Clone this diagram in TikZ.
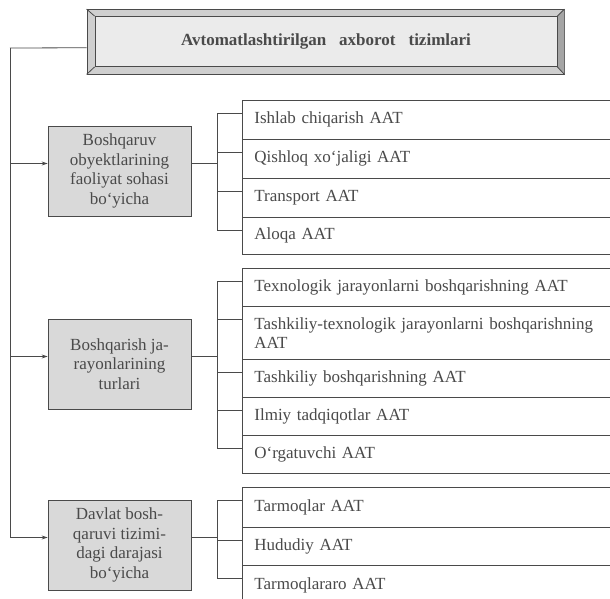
\documentclass[tikz,border=0pt]{standalone}
\usepackage{fontspec}
\setmainfont{Liberation Serif}
\usetikzlibrary{arrows.meta}
\definecolor{ink}{HTML}{4A4A4A}
\definecolor{boxfill}{HTML}{D9D9D9}
\definecolor{panelfill}{HTML}{EBEBEB}
\definecolor{framefill}{HTML}{CFCFCF}
\definecolor{frameshade}{HTML}{A5A5A5}

\begin{document}
\begin{tikzpicture}[x=1pt, y=-1pt, line width=0.8pt, color=ink,
  every node/.style={font=\fontsize{17}{19.5}\selectfont},
  frame/.style={rectangle, draw=ink, fill=framefill, minimum width=477pt, minimum height=64.5pt},
  panel/.style={rectangle, draw=ink, fill=panelfill, minimum width=462pt, minimum height=50pt},
  cat/.style={rectangle, draw=ink, fill=boxfill, minimum width=143pt, minimum height=90pt, align=center, inner sep=2pt},
  item/.style={rectangle, draw=ink, anchor=north west, text width=380pt, align=left, inner xsep=12pt, inner ysep=0pt},
  arr/.style={-{Stealth[length=6pt,width=4pt]}}]
  \clip (0,0) rectangle (610,598);
  \fill[white] (0,0) rectangle (610,598);
  % Title frame with bevelled border
  \node[frame] (aat) at (325.5,41.75) {};
  \fill[frameshade] (aat.north east) -- ([xshift=-7pt,yshift=-7.5pt]aat.north east) -- ([xshift=-7pt,yshift=7pt]aat.south east) -- (aat.south east) -- cycle;
  \node[panel] (aatin) at ([xshift=0.5pt,yshift=0.25pt]aat.center) {\textbf{Avtomatlashtirilgan\hspace{13pt}axborot\hspace{13pt}tizimlari}};
  \draw (aat.north west) -- (aatin.north west);
  \draw (aat.north east) -- (aatin.north east);
  \draw (aat.south west) -- (aatin.south west);
  \draw (aat.south east) -- (aatin.south east);
  % Classification boxes
  \node[cat] (c1) at (119.5,171) {Boshqaruv\\obyektlarining\\faoliyat sohasi\\bo‘yicha};
  \node[cat] (c2) at (119.5,364) {Boshqarish ja-\\rayonlarining\\turlari};
  \node[cat] (c3) at (119.5,545) {Davlat bosh-\\qaruvi tizimi-\\dagi darajasi\\bo‘yicha};
  % Trunk from the title to the three boxes
  \coordinate (trunk) at (10,48);
  \draw ([yshift=-6pt]aat.west) -- (trunk);
  \foreach \c in {c1,c2,c3}
    \draw[arr] (trunk) |- ([yshift=7.5pt]\c.west);
  % Group 1 items
  \foreach \y/\h/\t [count=\k] in {100/39/{Ishlab chiqarish AAT}, 139/39/{Qishloq xo‘jaligi AAT},
      178/39/{Transport AAT}, 217/37/{Aloqa AAT}}
    \node[item, minimum height=\h pt] (a\k) at (242,\y) {\t};
  % Group 2 items
  \foreach \y/\h/\t [count=\k] in {268/38/{Texnologik jarayonlarni boshqarishning AAT},
      306/53/{Tashkiliy-texnologik jarayonlarni boshqarishning\\AAT},
      359/38/{Tashkiliy boshqarishning AAT}, 397/38/{Ilmiy tadqiqotlar AAT},
      435/38/{O‘rgatuvchi AAT}}
    \node[item, minimum height=\h pt] (b\k) at (242,\y) {\t};
  % Group 3 items
  \foreach \y/\h/\t [count=\k] in {487/40/{Tarmoqlar AAT}, 527/38/{Hududiy AAT},
      565/40/{Tarmoqlararo AAT}}
    \node[item, minimum height=\h pt] (d\k) at (242,\y) {\t};
  % Brackets
  \draw ([yshift=7.5pt]c1.east) -- ++(26,0) coordinate (j1);
  \draw ([yshift=7.5pt]c2.east) -- ++(26,0) coordinate (j2);
  \draw ([yshift=7.5pt]c3.east) -- ++(26,0) coordinate (j3);
  \foreach \k in {1,...,4}
    \draw (j1) |- ([yshift=-13pt]a\k.north west);
  \foreach \k in {1,...,5}
    \draw (j2) |- ([yshift=-13pt]b\k.north west);
  \foreach \k in {1,...,3}
    \draw (j3) |- ([yshift=-13pt]d\k.north west);
\end{tikzpicture}
\end{document}
